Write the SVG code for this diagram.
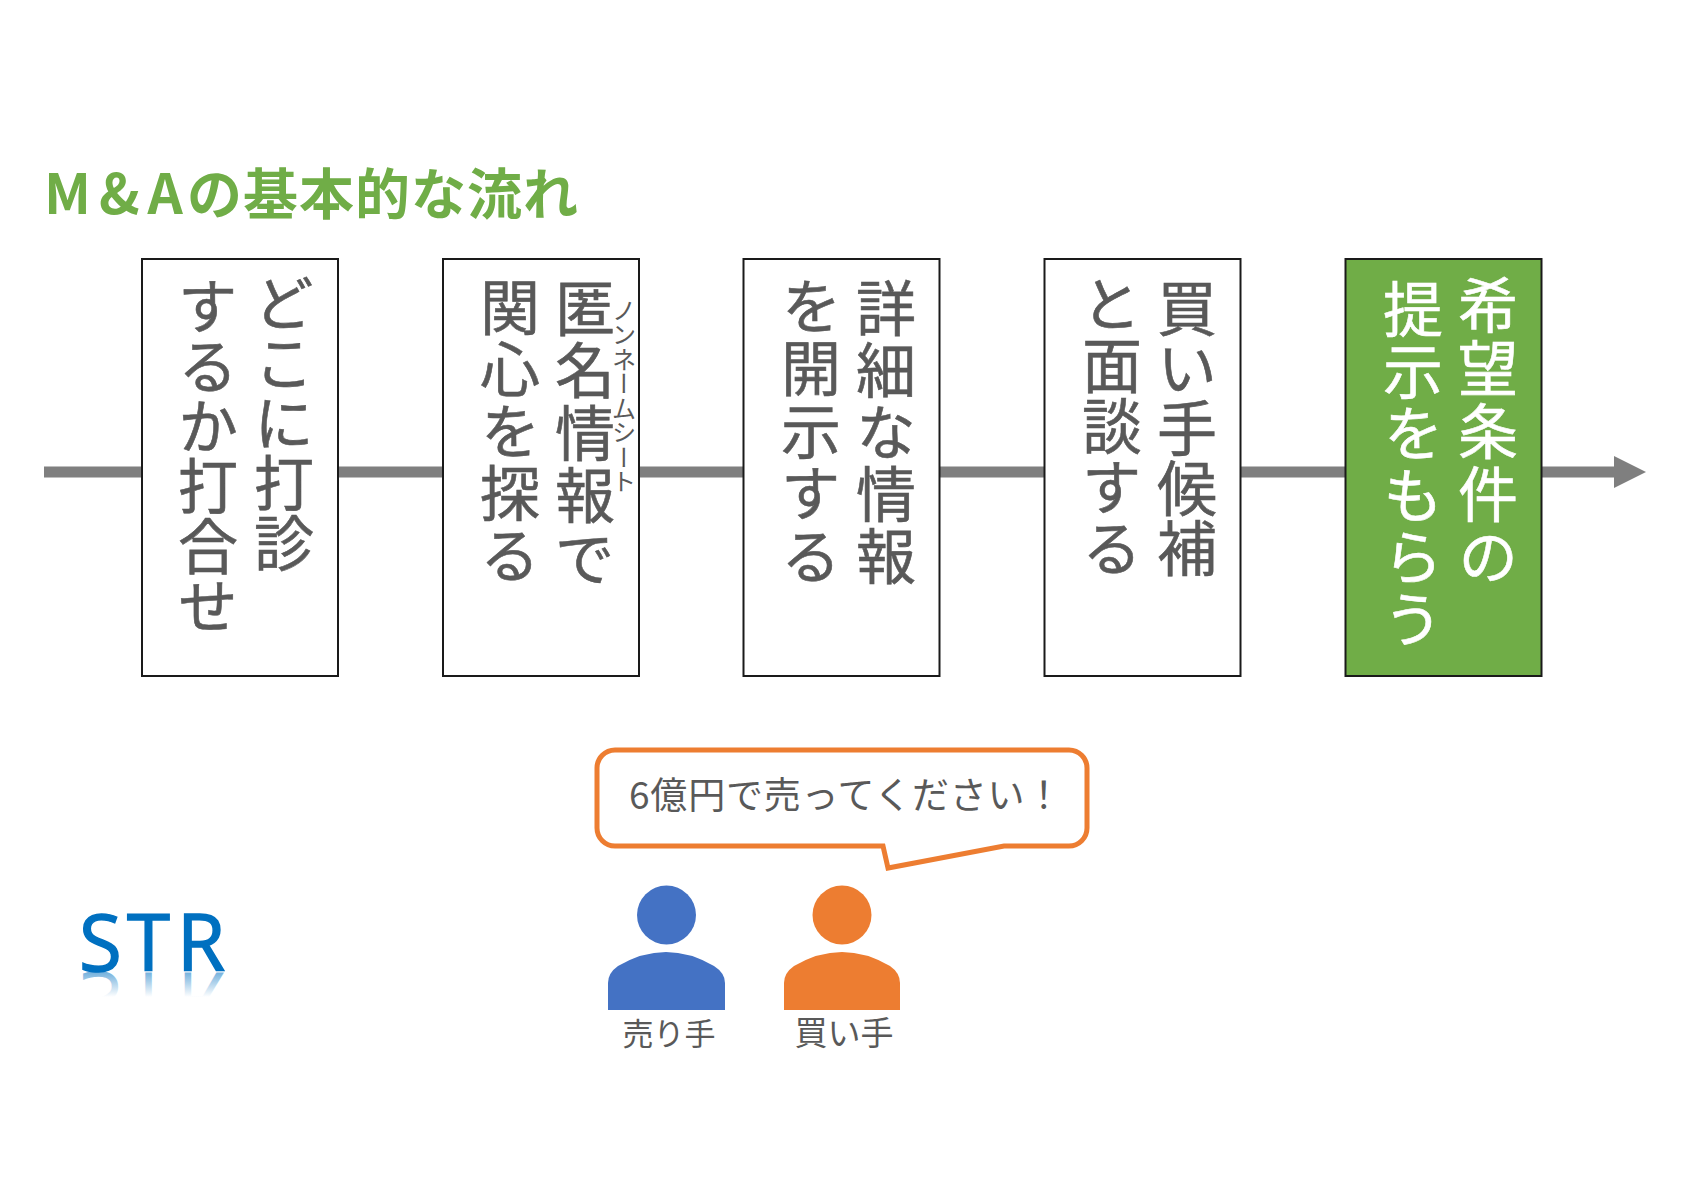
<svg xmlns="http://www.w3.org/2000/svg" width="1684" height="1191" viewBox="0 0 1684 1191">
<style>
text{font-family:"Noto Sans CJK JP","Noto Sans",sans-serif;fill:#595959}
.box{fill:#fff;stroke:#1a1a1a;stroke-width:2}
.v{writing-mode:vertical-rl;font-size:60px;stroke:#595959;stroke-width:.6}
.w{fill:#fff;stroke:#fff}
.lab{text-anchor:middle}
.logo{font-family:"Open Sans","Noto Sans",sans-serif;font-size:78px}
</style>
<defs>
<marker id="arr" markerUnits="userSpaceOnUse" markerWidth="32" markerHeight="32" refX="0" refY="16" orient="auto"><path d="M0 0L32 16L0 32Z" fill="#7f7f7f"/></marker>
<linearGradient id="fade" gradientUnits="userSpaceOnUse" x1="0" y1="0" x2="0" y2="-25"><stop offset="0" stop-color="#0070C0" stop-opacity=".55"/><stop offset="1" stop-color="#0070C0" stop-opacity="0"/></linearGradient>
</defs>
<rect width="1684" height="1191" fill="#fff"/>
<g id="title"><text y="214" font-size="55" font-weight="700" style="fill:#70AD47"><tspan x="44" letter-spacing="8">M&amp;A</tspan><tspan x="187" letter-spacing="1">の基本的な流れ</tspan></text></g>
<g id="connectors"><line x1="44" y1="472" x2="1614" y2="472" stroke="#7f7f7f" stroke-width="11" marker-end="url(#arr)"/></g>
<g id="step1"><rect class="box" x="142" y="259" width="196" height="417"/><text class="v" x="284" y="273">どこに打診</text><text class="v" x="208" y="276">するか打合せ</text></g>
<g id="step2"><rect class="box" x="443" y="259" width="196" height="417"/><text class="v" x="585" y="278" letter-spacing="2.5">匿名情報で</text><text class="v" x="510" y="277" letter-spacing="2">関心を探る</text><text class="v" x="624" y="298" style="font-size:24.5px;stroke:none">ノンネームシート</text></g>
<g id="step3"><rect class="box" x="743.500" y="259" width="196" height="417"/><text class="v" x="886" y="278" letter-spacing="2">詳細な情報</text><text class="v" x="811" y="276" letter-spacing="2.500">を開示する</text></g>
<g id="step4"><rect class="box" x="1044.500" y="259" width="196" height="417"/><text class="v" x="1187" y="278">買い手候補</text><text class="v" x="1112" y="274" letter-spacing="1">と面談する</text></g>
<g id="step5"><rect class="box" x="1345.500" y="259" width="196" height="417" style="fill:#70AD47"/><text class="v w" x="1488" y="275" letter-spacing="3">希望条件の</text><text class="v w" x="1413" y="279" letter-spacing="2">提示をもらう</text></g>
<g id="bubble"><path d="M615 750H1069A18 18 0 0 1 1087 768V828A18 18 0 0 1 1069 846H1004L888 868L883 846H615A18 18 0 0 1 597 828V768A18 18 0 0 1 615 750Z" fill="#fff" stroke="#ED7D31" stroke-width="5"/><text x="629" y="809" font-size="37" letter-spacing=".8">6億円で売ってください&#xFF01;</text></g>
<g id="seller"><ellipse cx="666.500" cy="915" rx="29.500" ry="29.500" fill="#4472C4"/><path d="M608 1010V983Q608 973 618 966Q642 952 666 952Q690 952 714 966Q725 973 725 983V1010Z" fill="#4472C4"/><text class="lab" x="669" y="1045" font-size="31">売り手</text></g>
<g id="buyer"><ellipse cx="842" cy="915" rx="29.500" ry="29.500" fill="#ED7D31"/><path d="M784 1010V983Q784 973 794 966Q818 952 842 952Q866 952 890 966Q900 973 900 983V1010Z" fill="#ED7D31"/><text class="lab" x="844" y="1045" font-size="33">買い手</text></g>
<g id="logo"><text class="logo" x="79 127 177" y="971" style="fill:#0070C0;stroke:#0070C0;stroke-width:1.5">STR</text><g transform="translate(0 972)"><text class="logo" x="79 127 177" y="0" transform="scale(1 -1)" style="fill:url(#fade)">STR</text></g></g>
</svg>
